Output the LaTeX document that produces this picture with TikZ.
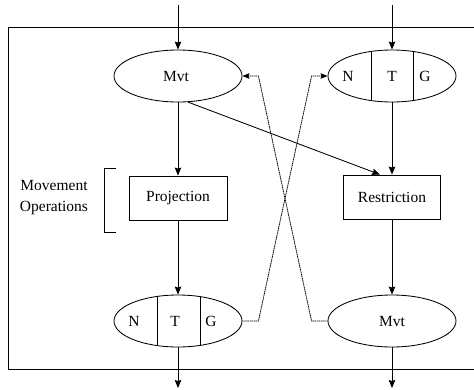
\documentclass[tikz,border=0pt]{standalone}
\usepackage{fontspec}
\setmainfont{Liberation Serif}
\usetikzlibrary{shapes.geometric,arrows.meta}
\begin{document}
\begin{tikzpicture}[x=1pt,y=-1pt,
  every node/.style={font=\rmfamily\fontsize{15.5}{21}\selectfont},
  oval/.style={ellipse,draw,line width=0.85pt,minimum width=128pt,minimum height=52pt,inner sep=0pt},
  opbox/.style={rectangle,draw,line width=0.85pt,minimum width=98pt,minimum height=44pt,inner sep=0pt},
  flow/.style={line width=0.85pt,-{Stealth[length=8pt,width=6.5pt,inset=1pt]}},
  dotline/.style={line width=0.8pt,dash pattern=on 1.3pt off 0.6pt},
  lbl/.style={inner sep=0pt}]
\useasboundingbox (0,0) rectangle (474,389);
\draw[line width=0.85pt] (8,27) rectangle (480,369);
% nodes
\node[oval] (mvtA) at (178,76) {};
\node[lbl] (mvtAt) at (176,76) {Mvt};
\node[oval] (ntgA) at (392,76) {};
\node[lbl] (ntgAn) at (348,76) {N};
\node[lbl] (ntgAt) at (392,76) {T};
\node[lbl] (ntgAg) at (425,76) {G};
\node[opbox] (proj) at (178,198) {Projection};
\node[opbox,minimum width=97pt] (restr) at (392,197) {Restriction};
\node[oval] (ntgB) at (178,321) {};
\node[lbl] (ntgBn) at (134,321) {N};
\node[lbl] (ntgBt) at (175,321) {T};
\node[lbl] (ntgBg) at (211,321) {G};
\node[oval] (mvtB) at (392,321) {};
\node[lbl] (mvtBt) at (392,321) {Mvt};
\node[align=center,inner sep=0pt] (movop) at (54,198) {Movement\\Operations};
% dividers
\begin{scope}
\clip (392,76) ellipse [x radius=64, y radius=26];
\draw[line width=0.85pt] (371,40) -- (371,110) (413,40) -- (413,110);
\end{scope}
\begin{scope}
\clip (178,321) ellipse [x radius=64, y radius=26];
\draw[line width=0.85pt] (157,290) -- (157,350) (200,290) -- (200,350);
\end{scope}
% bracket
\draw[line width=0.8pt] (116,168) -- (104,168) -- (104,232) -- (116,232);
% in/out
\coordinate (inA) at (178,5);
\coordinate (inB) at (392,5);
\coordinate (outA) at (178,388);
\coordinate (outB) at (392,388);
\draw[flow] (inA) -- (mvtA.north);
\draw[flow] (inB) -- (ntgA.north);
\draw[flow] (ntgB.south) -- (outA);
\draw[flow] (mvtB.south) -- (outB);
% vertical flows
\draw[flow] (mvtA.south) -- (proj.north);
\draw[flow] (proj.south) -- (ntgB.north);
\draw[flow] (ntgA.south) -- (restr.north);
\draw[flow] (restr.south) -- (mvtB.north);
\draw[flow] (mvtA.-69) -- ([xshift=-12pt]restr.north);
% dotted cross
\draw[dotline,-{Stealth[length=7pt,width=5.5pt,inset=1pt]}] (ntgB.east) -- ++(16,0) -- ([xshift=-16pt]ntgA.west) -- (ntgA.west);
\draw[dotline,-{Stealth[length=7pt,width=5.5pt,inset=1pt]}] (mvtB.west) -- ++(-16,0) -- ([xshift=16pt]mvtA.east) -- (mvtA.east);
\end{tikzpicture}
\end{document}
